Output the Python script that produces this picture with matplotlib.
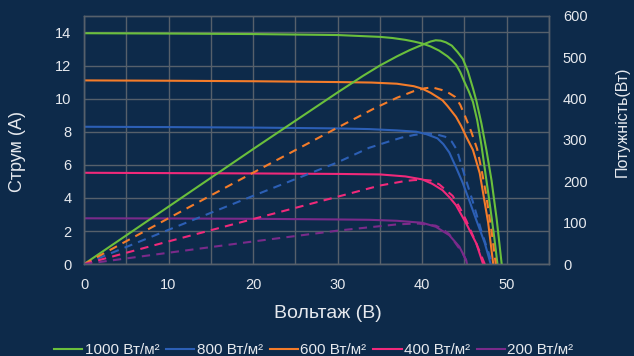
import matplotlib.pyplot as plt
from matplotlib.ticker import MultipleLocator

# I-V readings (voltage in V, current in A) and power readings (W)
v_1000 = [0, 10, 20, 30, 35, 36.5, 38, 39, 40, 41, 42, 43, 43.5, 44, 44.5, 45, 45.5, 46, 46.5, 47, 47.5, 48, 48.5, 48.9]
i_1000 = [13.95, 13.93, 13.90, 13.84, 13.73, 13.66, 13.55, 13.45, 13.33, 13.15, 12.90, 12.55, 12.32, 12.05,
          11.6, 11.0, 10.45, 9.8, 8.7, 7.2, 5.4, 3.6, 1.7, 0]
pv_1000 = [0, 10, 20, 30, 33, 35, 37, 38.5, 40, 41, 41.6, 42.2, 42.8, 43.5, 44.2, 44.8, 45.4, 46, 46.4,
           47, 47.6, 48.2, 48.8, 49.4]
p_1000 = [0, 139, 278, 415, 455, 480, 502, 517, 530, 538, 541, 540, 536, 528, 512, 496, 466, 425, 395,
          340, 275, 202, 110, 0]

v_800 = [0, 10, 20, 30, 33.7, 37, 39.3, 40.5, 41.8, 42.5, 43.2, 44, 44.8, 45.6, 46.4, 47.4, 48.1]
i_800 = [8.30, 8.28, 8.25, 8.20, 8.16, 8.08, 8.0, 7.85, 7.6, 7.25, 6.75, 5.85, 4.9, 3.8, 2.66, 1.27, 0]
pv_800 = [0, 10, 20, 30, 33.7, 36, 37.6, 39, 40.4, 41.6, 42.7, 43.5, 44.1, 45.0, 46.0, 47.0, 48.3]
p_800 = [0, 83, 165, 246, 281, 296, 306, 312, 316, 314, 308, 296, 276, 215, 150, 80, 0]

v_600 = [0, 10, 20, 30, 34, 37, 39, 40, 41, 42.4, 43, 44, 44.6, 45.2, 45.6, 46, 46.8, 47.3, 47.8, 48.4]
i_600 = [11.1, 11.08, 11.05, 11.0, 10.97, 10.9, 10.75, 10.6, 10.35, 9.9, 9.55, 8.9, 8.35, 7.7, 7.3, 6.9,
         5.5, 4.0, 2.5, 0]
pv_600 = [0, 10, 20, 30, 34.3, 37, 39, 40.3, 41.2, 42.3, 43.2, 43.9, 44.5, 45.1, 45.8, 46.5, 47, 47.5, 48.2, 48.7]
p_600 = [0, 111, 221, 330, 376, 402, 418, 425, 427, 421, 413, 404, 385, 356, 320, 278, 230, 175, 80, 0]

v_400 = [0, 10, 20, 30, 35, 38, 40, 41.2, 42.4, 43.2, 44, 45.2, 46.4, 47.2]
i_400 = [5.52, 5.50, 5.48, 5.45, 5.42, 5.30, 5.12, 4.85, 4.47, 4.05, 3.56, 2.46, 1.25, 0]
pv_400 = [0, 10, 20, 30, 35, 38, 39, 40, 41, 42, 43.6, 44.4, 45.2, 46.4, 47.4]
p_400 = [0, 55, 109, 163, 190, 201, 203, 204, 202, 193, 165, 138, 106, 50, 0]

v_200 = [0, 10, 20, 30, 33.7, 37, 40, 41.6, 43.2, 44.4, 45.2, 45.3]
i_200 = [2.77, 2.76, 2.74, 2.70, 2.68, 2.62, 2.50, 2.26, 1.75, 1.05, 0.24, 0]
pv_200 = [0, 10, 20, 30, 33.7, 37, 38.5, 39.6, 41.6, 42.4, 43.2, 44.8, 45.4]
p_200 = [0, 27.6, 54.8, 81, 89, 96, 97.5, 98, 93, 85, 72, 26, 0]

labels = ['1000 Вт/м²', '800 Вт/м²', '600 Вт/м²', '400 Вт/м²', '200 Вт/м²']
colors = ['#6abf3c', '#2c5fb5', '#f47c2a', '#f0297a', '#7a2a8a']

bg = '#0d2a4a'
grid_col = '#56606b'
txt = '#e6e9ee'

plt.rcParams['font.family'] = ['Liberation Sans', 'DejaVu Sans']

fig = plt.figure(figsize=(6.34, 3.56), dpi=100, facecolor=bg)
ax = fig.add_axes([0.1325, 0.258, 0.7335, 0.6975])
ax.set_facecolor(bg)
ax2 = ax.twinx()

iv = [(v_1000, i_1000), (v_800, i_800), (v_600, i_600), (v_400, i_400), (v_200, i_200)]
pw = [(pv_1000, p_1000), (pv_800, p_800), (pv_600, p_600), (pv_400, p_400), (pv_200, p_200)]

handles = []
for k in range(5):
    h, = ax.plot(iv[k][0], iv[k][1], color=colors[k], lw=1.5, label=labels[k])
    handles.append(h)
    ls = '-' if k == 0 else (0, (4, 3))
    ax2.plot(pw[k][0], pw[k][1], color=colors[k], lw=1.5, linestyle=ls)

ax.set_xlim(0, 55)
ax.set_ylim(0, 15)
ax2.set_ylim(0, 600)
ax.xaxis.set_major_locator(MultipleLocator(10))
ax.xaxis.set_minor_locator(MultipleLocator(5))
ax.yaxis.set_major_locator(MultipleLocator(2))
ax2.yaxis.set_major_locator(MultipleLocator(100))
ax.grid(True, which='both', color=grid_col, lw=1.0)
ax.set_axisbelow(True)

for a in (ax, ax2):
    for s in a.spines.values():
        s.set_color(grid_col)
        s.set_linewidth(1.0)
ax.tick_params(axis='both', which='both', length=0, colors=txt, labelsize=10.5)
ax.tick_params(axis='x', pad=10)
ax.tick_params(axis='y', pad=9)
ax2.tick_params(axis='y', length=0, colors=txt, labelsize=10.5, pad=10)

# axis titles placed where they sit in the reference
fig.text(328 / 634, 1 - 314 / 356, 'Вольтаж (В)', color=txt, fontsize=14, ha='center', va='center')
fig.text(18 / 634, 1 - 152 / 356, 'Струм (A)', color=txt, fontsize=13, rotation=90, ha='center', va='center')
fig.text(622 / 634, 1 - 122 / 356, 'Потужність(Вт)', color=txt, fontsize=11.5, rotation=90,
         ha='center', va='center')

leg = fig.legend(handles=handles, labels=labels, loc='center', bbox_to_anchor=(0.495, 0.017),
                 ncol=5, frameon=False, handlelength=1.85, handletextpad=0.15,
                 columnspacing=0.45, borderpad=0, prop={'size': 11})
for t in leg.get_texts():
    t.set_color(txt)

fig.savefig('out.png', dpi=100, facecolor=bg)
